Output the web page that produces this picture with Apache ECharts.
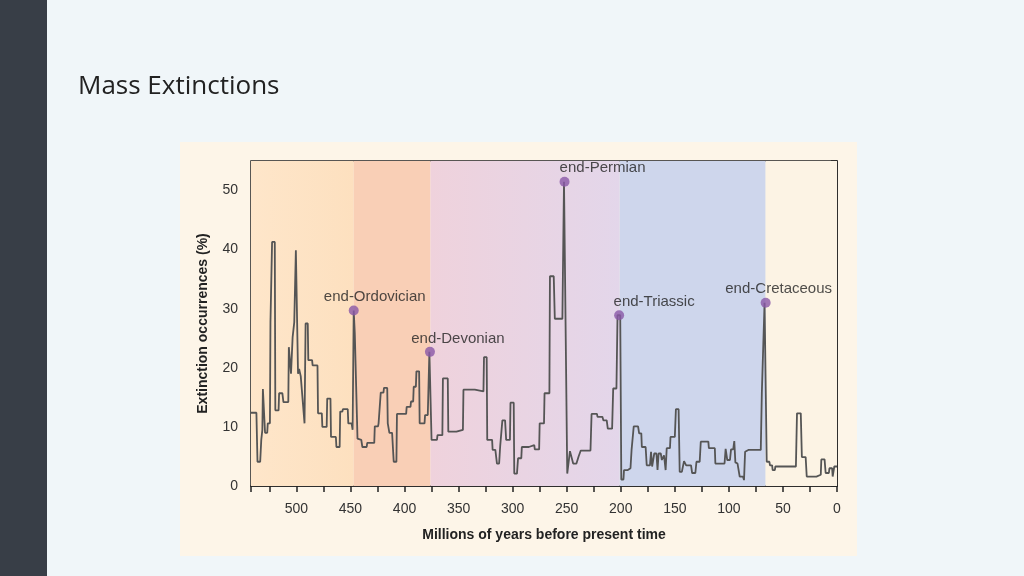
<!DOCTYPE html>
<html>
<head>
<meta charset="utf-8">
<script src="https://cdn.jsdelivr.net/npm/echarts@6/dist/echarts.min.js"></script>
<style>
html,body{margin:0;padding:0;background:#f0f6f9;}
#chart{width:1024px;height:576px;}
</style>
</head>
<body>
<div id="chart"></div>
<script>
// Age (millions of years before present) and extinction occurrence (%) of the curve vertices
const ages = [542,537,536,533.5,532.5,531.5,531,529.5,529,527,526.5,524.5,524,523,522.5,520,519.5,516.5,516,513,512,507.5,507,505.5,505,504,503.5,502,500.5,499,498.5,497.5,496,492.5,491.5,489.5,489,485.5,485,480.5,480,476.5,476,472,471.5,468.5,468,463.5,463,460,459.5,457.5,457,452.5,452,449,448,447,446,444.5,443.5,440,439,435,434.5,428,427.5,424.5,424,422.5,422,419.5,419,416,415.5,414,411.5,410,407.5,407,398.5,398,394.5,394,392,391.5,389.5,389,386.5,386,381.5,381,378.5,377,376,375,370,369.5,365,364.5,360,359.5,352,351.5,346,345.5,335,334.5,327,326.5,324,323.5,319,318.5,316,314.5,312.5,311.5,310,309.5,307,306,302.5,302,299,298.5,296,295,292,291.5,285,284.5,280,279.5,275.5,275,271,270.5,266,265.5,262,261,254,252.5,251.5,249.5,248,247,246,244,241,239,237,228,227,222,221.5,217,216,213,212,208,207,204,203,200.5,199.5,197.5,197,193.5,193,191,190,188,184,183,181,180.5,177,176,173,172,171,170,169,167,166,165,163,162,161,160,158.5,157.5,154.5,154,150,149,146.5,145.5,143.5,141.5,140,139.5,135,134,131,130,127,126,119,118.5,113,112.5,104,103,101.5,99,98,96,95,94,92,90,87,86,85,82,70.5,69.5,68,67,65.5,65,62.5,62,60,59.5,57.5,57,38,37,33.5,32.5,29,28,19,18.5,15,14.5,11.5,10.5,7.5,7,4.5,4,3,2.5,0];
const values = [12.4,12.4,4.1,4.1,7.8,9.5,16.4,16.4,9,9,10.6,10.6,27.7,28,41.3,41.3,12.8,12.8,15.7,15.7,14.2,14.2,23.5,23.5,19,19,25.2,27.7,39.9,39.9,19,19.8,18.6,10.6,27.5,27.5,21.3,21.3,20.4,20.4,12.3,12.3,10,10,14.8,14.8,8.3,8.3,6.6,6.6,12.6,12.6,13,13,10.6,10.6,9.5,29.7,25.8,25.8,8,7.8,6.6,6.6,7.3,7.3,10.1,10.1,10.6,10.6,15.8,15.8,16.6,16.6,10.6,9,9,4.1,4.1,12.2,12.2,13.4,13.4,14.3,14.3,16.8,16.8,19.4,19.4,10.6,10.6,12,12,22.7,22.7,7.8,7.8,8.6,8.6,18.2,18.2,9.2,9.2,9.5,9.5,16.3,16.3,16,16,21.8,21.8,7.8,7.8,6.1,6.1,3.8,3.8,6.8,6.8,11.1,11.1,7.8,7.8,14.1,14.1,2.1,2.1,4.7,4.7,6.6,6.6,6.9,6.9,6.2,6.2,10.6,10.6,15.7,15.7,35.5,35.5,28.3,28.3,51.5,51.5,2.1,2.1,5.9,5.9,3.8,3.8,5,6,6,12.2,12.2,11.7,11.7,11.1,11.1,9.7,9.7,16.5,16.5,28.9,28.9,1.1,1.1,2.7,2.7,3,3,6.1,10.1,10.1,8.9,8.9,6.6,6.6,3.5,3.5,5.8,3.3,3.3,5.5,5.5,2.7,5.5,5.5,4.4,4.4,5.2,2.7,6.4,6.4,8.3,8.3,13,13,2.4,2.4,4.2,4.2,3.5,3.5,2.2,2.2,4.1,4.1,7.5,7.5,6.4,6.4,3.8,3.8,6.3,4.4,4.4,6.2,6.2,7.6,4,3.8,1.6,1.6,1,5.8,6.1,6.1,15.9,15.9,31,31,4.1,4.1,3.5,3.5,2.7,2.7,3.3,3.3,12.3,12.3,4.9,4.9,1.6,1.6,1.9,1.9,4.5,4.5,2.2,2.2,3,3,1.6,1.6,3.3,3.3];

// Mass extinction events
const eventNames = ['end-Ordovician','end-Devonian','end-Permian','end-Triassic','end-Cretaceous'];
const eventAges = [447, 376.5, 252, 201.5, 66];
const eventValues = [29.7, 22.7, 51.5, 28.9, 31];

// Geological era band boundaries (Ma)
const bandEdges = [542, 447, 376, 201, 66, 0];

// Axis ticks
const xTickLabels = [0,50,100,150,200,250,300,350,400,450,500];
const yTickLabels = [0,10,20,30,40,50];

// styling (not data)
const bandColors = [
  {type:'linear',x:0,y:0,x2:1,y2:0,colorStops:[{offset:0,color:'#fee6ca'},{offset:1,color:'#fde0bf'}]},
  '#f9cfb6',
  {type:'linear',x:0,y:0,x2:1,y2:0,colorStops:[{offset:0,color:'#efd2dc'},{offset:1,color:'#e3d6ea'}]},
  '#ced6ec',
  '#fcf3e4'
];
const labelOffsets = [[21,3],[28,3],[38,3],[35,3],[13,3]];

const chart = echarts.init(document.getElementById('chart'), null, {renderer:'canvas'});
const lineData = ages.map((a,i)=>[a, values[i]]);
const bands = [];
for (let i=0;i<bandEdges.length-1;i++){
  bands.push([{xAxis: bandEdges[i], itemStyle:{color: bandColors[i]}}, {xAxis: bandEdges[i+1]}]);
}
const font = '"Liberation Sans", Arial, sans-serif';
const option = {
  backgroundColor: 'transparent',
  animation: false,
  title: {
    text: 'Mass Extinctions',
    left: 73, top: 69,
    textStyle: {fontFamily: '"Open Sans", sans-serif', fontWeight: 400, fontSize: 26, color: '#222'}
  },
  graphic: [
    {type:'rect', left:0, top:0, shape:{width:47, height:576}, style:{fill:'#383e47'}, z:-10},
    {type:'rect', left:180, top:142, shape:{width:677, height:414}, style:{fill:'#fdf5e8'}, z:-10}
  ],
  grid: {left:251, right:187, top:161, bottom:90, show:true, borderColor:'#222', borderWidth:1.5, backgroundColor:'transparent'},
  xAxis: {
    type:'value', inverse:true, min:0, max:542, interval:25,
    name:'Millions of years before present time', nameLocation:'middle', nameGap:42,
    nameTextStyle:{fontFamily:font, fontWeight:'bold', fontSize:14, color:'#222'},
    axisLine:{show:true, onZero:false, lineStyle:{color:'#222', width:1.5}},
    axisTick:{show:true, length:6, lineStyle:{color:'#222', width:1.5}},
    axisLabel:{fontFamily:font, fontSize:14, color:'#333', margin:16,
      formatter: v => xTickLabels.indexOf(v) >= 0 ? String(v) : ''},
    splitLine:{show:false}
  },
  yAxis: {
    type:'value', min:0, max:55, interval:10,
    name:'Extinction occurrences (%)', nameLocation:'middle', nameGap:41, nameRotate:90,
    nameTextStyle:{fontFamily:font, fontWeight:'bold', fontSize:14, color:'#222'},
    axisLine:{show:true, lineStyle:{color:'#222', width:1.5}},
    axisTick:{show:true, length:6, lineStyle:{color:'#222', width:1.5}},
    axisLabel:{fontFamily:font, fontSize:14, color:'#333', margin:13,
      formatter: v => yTickLabels.indexOf(v) >= 0 ? String(v) : ''},
    splitLine:{show:false}
  },
  series: [
    {
      type:'line', data: lineData, symbol:'none', z:3,
      lineStyle:{color:'#555', width:1.8},
      markArea:{silent:true, data: bands, z:1}
    },
    {
      type:'scatter', z:5, symbolSize:10,
      itemStyle:{color:'#8a58a8'},
      data: eventNames.map((n,i)=>({
        value:[eventAges[i], eventValues[i]], name:n,
        label:{show:true, position:'top', distance:4, offset:labelOffsets[i], formatter:n,
          fontFamily:font, fontSize:15, color:'#222'}
      }))
    }
  ]
};
chart.setOption(option);
</script>
</body>
</html>
